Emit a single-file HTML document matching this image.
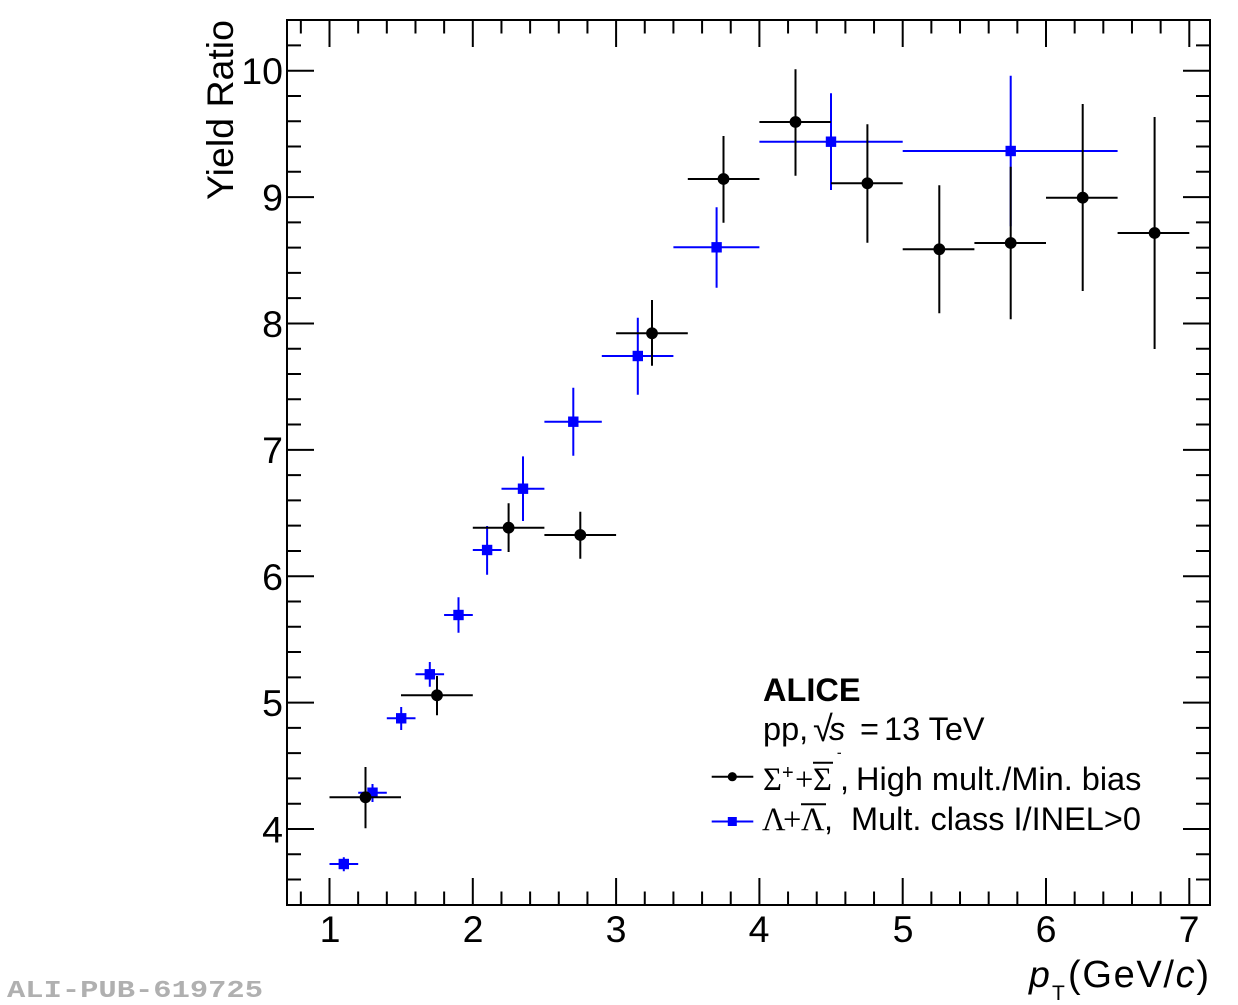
<!DOCTYPE html>
<html>
<head>
<meta charset="utf-8">
<style>
html,body{margin:0;padding:0;background:#fff;}
svg{display:block;}
text{font-family:"Liberation Sans",Arial,sans-serif;fill:#000;}
.g{font-family:"Liberation Serif","DejaVu Serif",serif;}
</style>
</head>
<body>
<svg width="1238" height="1005" viewBox="0 0 1238 1005" xmlns="http://www.w3.org/2000/svg">
<rect x="0" y="0" width="1238" height="1005" fill="#fff"/>

<!-- ticks -->
<g stroke="#000" stroke-width="2" fill="none">
<path d="M300.84 905V891.5M329.5 905V878M358.16 905V891.5M386.82 905V891.5M415.48 905V891.5M444.14 905V891.5M472.8 905V878M501.46 905V891.5M530.12 905V891.5M558.78 905V891.5M587.44 905V891.5M616.1 905V878M644.76 905V891.5M673.42 905V891.5M702.08 905V891.5M730.74 905V891.5M759.4 905V878M788.06 905V891.5M816.72 905V891.5M845.38 905V891.5M874.04 905V891.5M902.7 905V878M931.36 905V891.5M960.02 905V891.5M988.68 905V891.5M1017.34 905V891.5M1046 905V878M1074.66 905V891.5M1103.32 905V891.5M1131.98 905V891.5M1160.64 905V891.5M1189.3 905V878"/>
<path d="M300.84 20V33.5M329.5 20V47M358.16 20V33.5M386.82 20V33.5M415.48 20V33.5M444.14 20V33.5M472.8 20V47M501.46 20V33.5M530.12 20V33.5M558.78 20V33.5M587.44 20V33.5M616.1 20V47M644.76 20V33.5M673.42 20V33.5M702.08 20V33.5M730.74 20V33.5M759.4 20V47M788.06 20V33.5M816.72 20V33.5M845.38 20V33.5M874.04 20V33.5M902.7 20V47M931.36 20V33.5M960.02 20V33.5M988.68 20V33.5M1017.34 20V33.5M1046 20V47M1074.66 20V33.5M1103.32 20V33.5M1131.98 20V33.5M1160.64 20V33.5M1189.3 20V47"/>
<path d="M287 45.42H301M287 70.7H314M287 95.98H301M287 121.25H301M287 146.53H301M287 171.8H301M287 197.08H314M287 222.36H301M287 247.63H301M287 272.91H301M287 298.18H301M287 323.46H314M287 348.74H301M287 374.01H301M287 399.29H301M287 424.56H301M287 449.84H314M287 475.12H301M287 500.39H301M287 525.67H301M287 550.94H301M287 576.22H314M287 601.5H301M287 626.77H301M287 652.05H301M287 677.32H301M287 702.6H314M287 727.88H301M287 753.15H301M287 778.43H301M287 803.7H301M287 828.98H314M287 854.26H301M287 879.53H301"/>
<path d="M1210 45.42H1196M1210 70.7H1183M1210 95.98H1196M1210 121.25H1196M1210 146.53H1196M1210 171.8H1196M1210 197.08H1183M1210 222.36H1196M1210 247.63H1196M1210 272.91H1196M1210 298.18H1196M1210 323.46H1183M1210 348.74H1196M1210 374.01H1196M1210 399.29H1196M1210 424.56H1196M1210 449.84H1183M1210 475.12H1196M1210 500.39H1196M1210 525.67H1196M1210 550.94H1196M1210 576.22H1183M1210 601.5H1196M1210 626.77H1196M1210 652.05H1196M1210 677.32H1196M1210 702.6H1183M1210 727.88H1196M1210 753.15H1196M1210 778.43H1196M1210 803.7H1196M1210 828.98H1183M1210 854.26H1196M1210 879.53H1196"/>
<rect x="287" y="20" width="923" height="885"/>
</g>

<!-- Tick labels -->
<g font-size="37.5" text-anchor="middle">
<text x="330" y="942">1</text>
<text x="473" y="942">2</text>
<text x="616" y="942">3</text>
<text x="759" y="942">4</text>
<text x="903" y="942">5</text>
<text x="1046" y="942">6</text>
<text x="1189" y="942">7</text>
</g>
<g font-size="37.5" text-anchor="end">
<text x="283" y="84">10</text>
<text x="283" y="210.5">9</text>
<text x="283" y="337">8</text>
<text x="283" y="463">7</text>
<text x="283" y="590">6</text>
<text x="283" y="716">5</text>
<text x="283" y="842.5">4</text>
</g>

<!-- Axis titles -->
<text transform="translate(233,20) rotate(-90)" x="0" y="0" font-size="37.5" text-anchor="end">Yield Ratio</text>
<text x="1029" y="987" font-size="37.5" font-style="italic">p</text>
<text x="1052" y="1000" font-size="21">T</text>
<text x="1068" y="987" font-size="38" textLength="141" lengthAdjust="spacing">(GeV/<tspan font-style="italic">c</tspan>)</text>

<!-- Blue series (Lambda) -->
<g stroke="#0000ff" stroke-width="2" fill="none">
<path d="M329.5 864H358.2M343.8 857.3V871.3"/>
<path d="M358.2 792.7H386.8M372.5 784V802"/>
<path d="M386.8 718.3H415.5M401.2 707V730"/>
<path d="M415.5 674.3H444.1M429.8 662V686.7"/>
<path d="M444.1 615H472.8M458.5 597.3V632.7"/>
<path d="M472.8 550H501.5M487.1 526V574.7"/>
<path d="M501.5 488.7H544.4M523 456.4V521"/>
<path d="M544.4 421.7H601.8M573.3 387.7V455.7"/>
<path d="M601.8 356H673.4M637.8 317.7V394.7"/>
<path d="M673.4 247.3H759.4M716.6 207.3V287.7"/>
<path d="M759.4 141.7H902.7M831 93.3V190"/>
<path d="M902.7 151H1117.6M1010.7 75.7V226.3"/>
</g>
<g fill="#0000ff">
<rect x="338.6" y="858.8" width="10.4" height="10.4"/>
<rect x="367.3" y="787.5" width="10.4" height="10.4"/>
<rect x="396" y="713.1" width="10.4" height="10.4"/>
<rect x="424.6" y="669.1" width="10.4" height="10.4"/>
<rect x="453.3" y="609.8" width="10.4" height="10.4"/>
<rect x="481.9" y="544.8" width="10.4" height="10.4"/>
<rect x="517.8" y="483.5" width="10.4" height="10.4"/>
<rect x="568.1" y="416.5" width="10.4" height="10.4"/>
<rect x="632.6" y="350.8" width="10.4" height="10.4"/>
<rect x="711.4" y="242.1" width="10.4" height="10.4"/>
<rect x="825.8" y="136.5" width="10.4" height="10.4"/>
<rect x="1005.5" y="145.8" width="10.4" height="10.4"/>
</g>

<!-- Black series (Sigma) -->
<g stroke="#000" stroke-width="2" fill="none">
<path d="M329.5 797.3H401M365.5 767V828.3"/>
<path d="M401 695.3H472.8M437 676V715.3"/>
<path d="M472.8 527.7H544.4M508.6 503.3V552"/>
<path d="M544.4 535H616.1M580.3 511.7V558.7"/>
<path d="M616.1 333.3H687.8M652 300V365.7"/>
<path d="M687.8 179H759.4M723.5 136V222.7"/>
<path d="M759.4 122H831M795.5 69.3V175.7"/>
<path d="M831 183.3H902.7M867.4 124.3V242.7"/>
<path d="M902.7 249.3H974.4M939.3 185.3V313.3"/>
<path d="M974.4 243H1046M1010.7 166.7V319.3"/>
<path d="M1046 197.7H1117.6M1082.7 104V291"/>
<path d="M1117.6 233H1189.3M1154.6 117V349"/>
</g>
<g fill="#000">
<circle cx="365.5" cy="797.3" r="5.9"/>
<circle cx="437" cy="695.3" r="5.9"/>
<circle cx="508.6" cy="527.7" r="5.9"/>
<circle cx="580.3" cy="535" r="5.9"/>
<circle cx="652" cy="333.3" r="5.9"/>
<circle cx="723.5" cy="179" r="5.9"/>
<circle cx="795.5" cy="122" r="5.9"/>
<circle cx="867.4" cy="183.3" r="5.9"/>
<circle cx="939.3" cy="249.3" r="5.9"/>
<circle cx="1010.7" cy="243" r="5.9"/>
<circle cx="1082.7" cy="197.7" r="5.9"/>
<circle cx="1154.6" cy="233" r="5.9"/>
</g>

<!-- Legend -->
<text x="763" y="701" font-size="32.5" font-weight="bold">ALICE</text>
<text x="763" y="740" font-size="32.5">pp,</text>
<text x="813" y="741" font-size="36">√</text>
<text x="829" y="740" font-size="32.5" font-style="italic">s</text>
<text x="860" y="740" font-size="32.5">=</text>
<text x="884" y="740" font-size="32.5">13 TeV</text>

<path d="M711.7 776.7H753.3" stroke="#000" stroke-width="2"/>
<circle cx="732.3" cy="776.7" r="4.6" fill="#000"/>
<text class="g" x="763" y="790" font-size="32.5">Σ</text>
<text x="782" y="779" font-size="20">+</text>
<text class="g" x="795" y="790" font-size="32.5">+</text>
<text class="g" x="813" y="790" font-size="32.5">Σ</text>
<path d="M813 762.7H833" stroke="#000" stroke-width="2"/>
<path d="M837.5 753.3H841" stroke="#000" stroke-width="1.2"/>
<text x="840" y="790" font-size="32.5">,</text>
<text x="856" y="790" font-size="32.5">High mult./Min. bias</text>

<path d="M711.7 821.5H753.3" stroke="#0000ff" stroke-width="2"/>
<rect x="727.8" y="817" width="9" height="9" fill="#0000ff"/>
<text class="g" x="762" y="830" font-size="32.5">Λ</text>
<text class="g" x="783" y="830" font-size="32.5">+</text>
<text class="g" x="801" y="830" font-size="32.5">Λ</text>
<path d="M801 804.3H826" stroke="#000" stroke-width="2"/>
<text x="824" y="830" font-size="32.5">,</text>
<text x="851" y="830" font-size="32.5">Mult. class I/INEL&gt;0</text>

<!-- Watermark -->
<text x="7" y="997" font-family="'Liberation Mono',monospace" font-weight="bold" font-size="24" fill="#b0b0b0" style="fill:#b0b0b0;font-family:'Liberation Mono',monospace" textLength="256" lengthAdjust="spacingAndGlyphs">ALI-PUB-619725</text>
</svg>
</body>
</html>
